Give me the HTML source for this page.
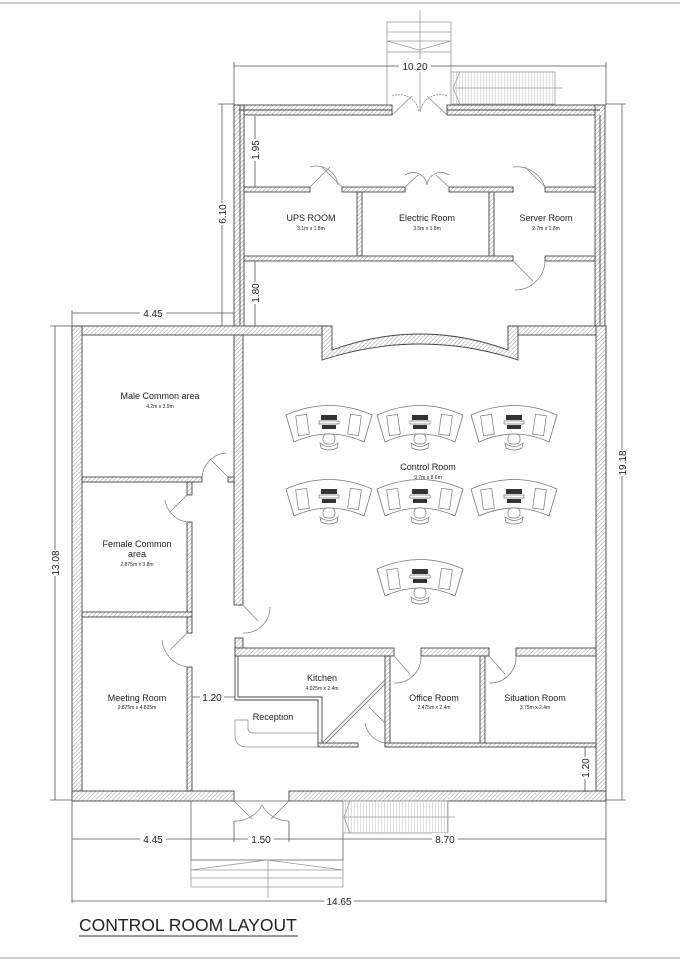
<!DOCTYPE html>
<html><head><meta charset="utf-8"><style>
html,body{margin:0;padding:0;background:#fff}
svg{display:block}
text{font-family:"Liberation Sans",sans-serif;fill:#222}
</style></head><body>
<svg width="680" height="962" viewBox="0 0 680 962" xmlns="http://www.w3.org/2000/svg">
<defs>
<pattern id="h" width="3" height="3" patternUnits="userSpaceOnUse" patternTransform="rotate(45)">
<rect width="3" height="3" fill="#fff"/><line x1="0" y1="0" x2="0" y2="3" stroke="#999" stroke-width="1"/></pattern>
<pattern id="v" width="3" height="4" patternUnits="userSpaceOnUse">
<rect width="3" height="4" fill="#fff"/><line x1="0" y1="0" x2="0" y2="4" stroke="#aaa" stroke-width="0.8"/></pattern>
<g id="desk">
<path d="M-43,-13 Q0,-32 43,-13 L35,14 Q0,-2 -35,14 Z" fill="#fff" stroke="#777" stroke-width="0.8"/>
<rect x="-32" y="-13" width="11" height="20" fill="none" stroke="#777" stroke-width="0.7" transform="rotate(-8 -26 -3)"/>
<rect x="20" y="-13" width="11" height="20" fill="none" stroke="#777" stroke-width="0.7" transform="rotate(8 26 -3)"/>
<rect x="-8" y="-13" width="16" height="5" fill="#333"/>
<rect x="-10" y="-7" width="20" height="3" fill="none" stroke="#555" stroke-width="0.6"/>
<rect x="-7" y="-3" width="14" height="4" fill="#333"/>
<rect x="-6" y="6" width="12" height="10" rx="4" fill="#fff" stroke="#777" stroke-width="0.7"/>
<path d="M-9,15 Q0,22 9,15 L8,20 Q0,24 -8,20 Z" fill="#fff" stroke="#777" stroke-width="0.7"/>
</g>
</defs>
<line x1="0" y1="3" x2="680" y2="3" stroke="#ccc" stroke-width="2"/>
<line x1="0" y1="958" x2="680" y2="958" stroke="#ccc" stroke-width="2"/>

<g stroke="#444" stroke-width="0.9" fill="url(#h)">
<rect x="234" y="105" width="158" height="10"/>
<rect x="447" y="105" width="158" height="10"/>
<rect x="234" y="105" width="10" height="225"/>
<rect x="595" y="105" width="10" height="225"/>
<rect x="244" y="187" width="66" height="5"/>
<rect x="342" y="187" width="63" height="5"/>
<rect x="449" y="187" width="64" height="5"/>
<rect x="545" y="187" width="50" height="5"/>
<rect x="357" y="192" width="5" height="65"/>
<rect x="489" y="192" width="5" height="65"/>
<rect x="244" y="256" width="269" height="5"/>
<rect x="545" y="256" width="50" height="5"/>
<rect x="72" y="326" width="250" height="9"/>
<rect x="508" y="326" width="98" height="9"/>
<path d="M322,326 L332,326 L332,350 Q420,318 508,350 L508,326 L518,326 L518,360 Q420,328 322,360 Z"/>
<rect x="72" y="326" width="10" height="474"/>
<rect x="596" y="326" width="10" height="474"/>
<rect x="72" y="791" width="162" height="10"/>
<rect x="289" y="791" width="317" height="10"/>
<rect x="234" y="335" width="9" height="270"/>
<rect x="82" y="477" width="120" height="5"/>
<rect x="228" y="477" width="6" height="5"/>
<rect x="187" y="482" width="5" height="13"/>
<rect x="187" y="522" width="5" height="90"/>
<rect x="82" y="612" width="110" height="5"/>
<rect x="187" y="617" width="5" height="16"/>
<rect x="187" y="667" width="5" height="124"/>
<rect x="235" y="638" width="8" height="10"/>
<rect x="235" y="648" width="159" height="8"/>
<rect x="421" y="648" width="68" height="8"/>
<rect x="516" y="648" width="80" height="8"/>
<rect x="385" y="656" width="5" height="91"/>
<rect x="480" y="656" width="5" height="89"/>
<rect x="385" y="743" width="211" height="4"/>
<rect x="318" y="743" width="40" height="4"/>
</g>
<g fill="none" stroke="#444" stroke-width="0.9">
<path d="M240,105 V325 M600,115 V325 M239,110 H392 M447,110 H600"/>
<path d="M235,656 V700 H318 V745 M238,656 V697 H322 V743"/>
<line x1="322" y1="743" x2="385" y2="680" stroke="#777"/>
<line x1="326" y1="743" x2="385" y2="684" stroke="#777"/>
<path d="M235,720 H248 V728 Q248,733 253,733 H318 M235,720 V735 Q235,747 247,747 H318" stroke="#888" stroke-width="0.7"/>
</g>
<g fill="none" stroke="#888" stroke-width="0.8">
<path d="M392,115 L412,96 M447,115 L427,96"/>
<path d="M392,96 A20,20 0 0 1 419,112 M447,96 A20,20 0 0 0 420,112" stroke-dasharray="2,1"/>
<path d="M310,187 L330,167 M342,187 L322,167 M310,167 A22,22 0 0 1 338,185"/>
<path d="M405,187 L418,175 M449,187 L436,175 M405,175 A14,14 0 0 1 427,185 M449,175 A14,14 0 0 0 427,185"/>
<path d="M545,187 L525,167 M513,167 A30,30 0 0 1 545,187 M513,261 L533,281 M545,261 A30,30 0 0 1 515,290"/>
<path d="M228,477 L210,459 M202,477 A26,26 0 0 1 226,453"/>
<path d="M187,495 L170,512 M187,522 A26,26 0 0 1 165,500"/>
<path d="M187,633 L170,650 M187,667 A30,30 0 0 1 162,640"/>
<path d="M243,605 L258,621 M243,633 A26,26 0 0 0 270,607"/>
<path d="M394,656 L410,674 M421,656 A26,26 0 0 1 394,683"/>
<path d="M489,656 L505,674 M516,656 A26,26 0 0 1 489,683"/>
<path d="M385,723 L369,707 M385,743 A24,24 0 0 1 365,723"/>
<path d="M234,801 L252,819 M289,801 L271,819 M234,821 A30,30 0 0 0 262,805 M289,821 A30,30 0 0 1 262,805"/>
</g>
<g fill="none" stroke="#999" stroke-width="0.8">
<rect x="387" y="22" width="64" height="30"/>
<path d="M387,32 H451 M387,41 H451 M387,41 L419,50 L451,41 M420,10 V112 M387,52 V105 M451,52 V105"/>
<rect x="451" y="72" width="104" height="32" fill="url(#v)"/>
<path d="M460,72 L453,88 L460,104 M455,88 H563"/>
<rect x="191" y="801" width="152" height="59" stroke="#666"/>
<path d="M191,870 H343 M191,878 H343 M191,887 H343 M191,860 V887 M343,860 V887 M191,870 L267,860 L343,870 M268,860 V898"/>
<rect x="343" y="801" width="105" height="32" fill="url(#v)"/>
<path d="M350,801 L344,817 L350,833 M344,817 H455"/>
</g>
<g fill="none" stroke="#555" stroke-width="0.8">
<path d="M234,66 H606 M234,62 V105 M606,62 V105"/>
<path d="M222,104 V326 M218,104 H234 M218,326 H234"/>
<path d="M255,116 V187 M255,261 V326"/>
<path d="M72,313 H234 M72,310 V326"/>
<path d="M55,326 V800 M50,326 H72 M50,800 H72"/>
<path d="M622,104 V800 M606,104 H626 M606,800 H626"/>
<path d="M192,697 H235"/>
<path d="M585,747 V792"/>
<path d="M72,839 H606 M72,801 V903 M606,801 V903 M234,821 V842 M289,821 V842"/>
<path d="M72,901 H606"/>
</g>
<g font-size="10" text-anchor="middle">
<rect x="399" y="59" width="32" height="13" fill="#fff"/><text x="415" y="70">10.20</text>
<rect x="216" y="203" width="12" height="22" fill="#fff"/><text transform="translate(226,214) rotate(-90)">6.10</text>
<rect x="249" y="139" width="12" height="22" fill="#fff"/><text transform="translate(259,150) rotate(-90)">1.95</text>
<rect x="249" y="282" width="12" height="22" fill="#fff"/><text transform="translate(259,293) rotate(-90)">1.80</text>
<rect x="140" y="306" width="26" height="12" fill="#fff"/><text x="153" y="317">4.45</text>
<rect x="49" y="550" width="12" height="26" fill="#fff"/><text transform="translate(59,563) rotate(-90)">13.08</text>
<rect x="616" y="450" width="12" height="26" fill="#fff"/><text transform="translate(626,463) rotate(-90)">19.18</text>
<rect x="200" y="691" width="24" height="12" fill="#fff"/><text x="212" y="701">1.20</text>
<rect x="579" y="757" width="12" height="22" fill="#fff"/><text transform="translate(589,768) rotate(-90)">1.20</text>
<rect x="140" y="833" width="26" height="12" fill="#fff"/><text x="153" y="843">4.45</text>
<rect x="248" y="833" width="26" height="12" fill="#fff"/><text x="261" y="843">1.50</text>
<rect x="432" y="833" width="26" height="12" fill="#fff"/><text x="445" y="843">8.70</text>
<rect x="324" y="895" width="30" height="12" fill="#fff"/><text x="339" y="905">14.65</text>
</g>
<use href="#desk" x="329" y="428"/><use href="#desk" x="420" y="428"/><use href="#desk" x="514" y="428"/>
<use href="#desk" x="329" y="502"/><use href="#desk" x="420" y="502"/><use href="#desk" x="514" y="502"/>
<use href="#desk" x="420" y="582"/>
<g text-anchor="middle" font-size="9">
<text x="311" y="221">UPS ROOM</text><text x="311" y="230" font-size="5">3.1m x 1.8m</text>
<text x="427" y="221">Electric Room</text><text x="427" y="230" font-size="5">3.5m x 1.8m</text>
<text x="546" y="221">Server Room</text><text x="546" y="230" font-size="5">2.7m x 1.8m</text>
<text x="160" y="399">Male Common area</text><text x="160" y="408" font-size="5">4.2m x 3.9m</text>
<text x="137" y="547">Female Common</text><text x="137" y="557">area</text><text x="137" y="566" font-size="5">2.875m x 3.8m</text>
<text x="428" y="470">Control Room</text><text x="428" y="479" font-size="5">9.7m x 8.6m</text>
<text x="137" y="701">Meeting Room</text><text x="137" y="709" font-size="5">2.875m x 4.825m</text>
<text x="322" y="681">Kitchen</text><text x="322" y="690" font-size="5">4.025m x 2.4m</text>
<text x="273" y="720">Reception</text>
<text x="434" y="701">Office Room</text><text x="434" y="709" font-size="5">2.475m x 2.4m</text>
<text x="535" y="701">Situation Room</text><text x="535" y="709" font-size="5">3.75m x 2.4m</text>
</g>
<text x="79" y="931" font-size="17.5">CONTROL ROOM LAYOUT</text>
<line x1="79" y1="936" x2="298" y2="936" stroke="#333" stroke-width="1"/>
</svg>
</body></html>
